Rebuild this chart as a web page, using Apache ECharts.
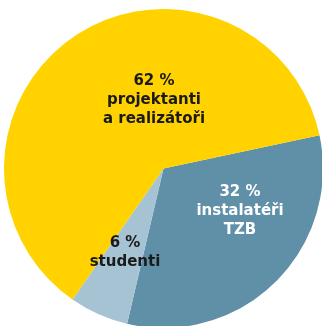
<!DOCTYPE html>
<html>
<head>
<meta charset="utf-8">
<script src="https://cdn.jsdelivr.net/npm/echarts@6/dist/echarts.min.js"></script>
<style>
  html, body { margin: 0; padding: 0; background: #ffffff; }
  #chart { width: 322px; height: 326px; }
</style>
</head>
<body>
<div id="chart"></div>
<script>
// Share of participants by group (clockwise from the right edge)
const groups = ['instalatéři\nTZB', 'studenti', 'projektanti\na realizátoři'];
const shares = [32, 6, 62];
const sliceColors = ['#5f90a8', '#a6c3d3', '#ffd200'];
const labelColors = ['#ffffff', '#1a1a1a', '#1a1a1a'];
// Label anchor points (block centres, px)
const labelAnchors = [[240, 211], [125, 253], [154, 100]];

const chart = echarts.init(document.getElementById('chart'), null, { renderer: 'canvas' });

chart.setOption({
  animation: false,
  series: [{
    type: 'pie',
    center: [163.5, 168.5],
    radius: 159.5,
    startAngle: 12,
    clockwise: true,
    silent: true,
    itemStyle: { borderWidth: 0 },
    label: {
      show: true,
      position: 'inside',
      fontFamily: 'DejaVu Sans',
      fontWeight: 'bold',
      fontSize: 15,
      lineHeight: 19,
      align: 'center',
      formatter: p => p.value + ' %\n' + p.name
    },
    labelLine: { show: false },
    labelLayout: p => ({
      x: labelAnchors[p.dataIndex][0],
      y: labelAnchors[p.dataIndex][1],
      align: 'center',
      verticalAlign: 'middle'
    }),
    data: groups.map((g, i) => ({
      name: g,
      value: shares[i],
      itemStyle: { color: sliceColors[i] },
      label: { color: labelColors[i] }
    }))
  }]
});
</script>
</body>
</html>
